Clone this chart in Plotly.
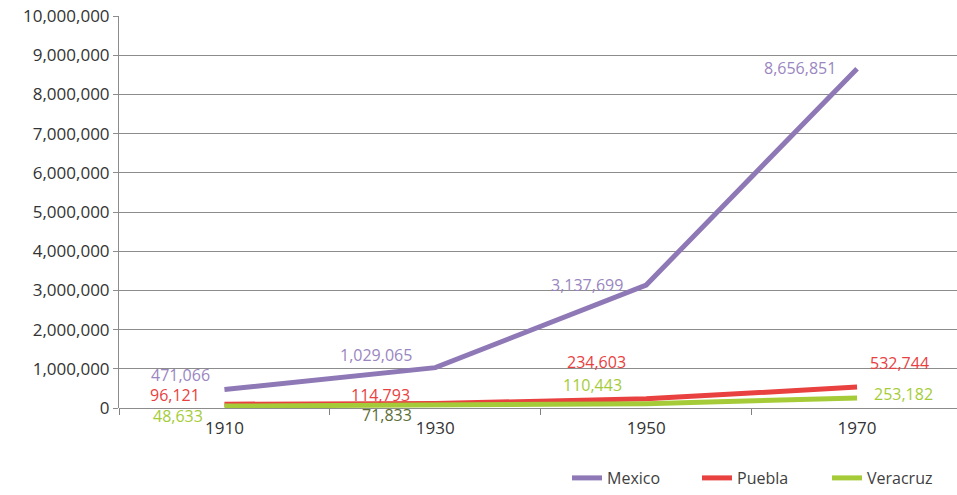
import plotly.graph_objects as go

years = ["1910", "1930", "1950", "1970"]
mexico = [471066, 1029065, 3137699, 8656851]
puebla = [96121, 114793, 234603, 532744]
veracruz = [48633, 71833, 110443, 253182]

series = [
    ("Mexico", mexico, "#8f78b6"),
    ("Puebla", puebla, "#e8413f"),
    ("Veracruz", veracruz, "#a5cc38"),
]

# label offsets in px (xshift, yshift) per series point
offsets = {
    "Mexico": [(-44, 15), (-59, 13), (-59, 0), (-57, 1)],
    "Puebla": [(-49, 9), (-55, 9), (-50, 37), (42, 24)],
    "Veracruz": [(-46, -10), (-48, -10), (-54, 19), (46, 4)],
}
label_colors = {
    "Mexico": ["#9a86c0"] * 4,
    "Puebla": ["#e8413f"] * 4,
    "Veracruz": ["#a5cc38", "#5b6d35", "#a5cc38", "#a5cc38"],
}

FONT = "Open Sans"
xs = list(range(len(years)))

fig = go.Figure()
for name, vals, color in series:
    fig.add_trace(go.Scatter(
        x=xs, y=vals, mode="lines", name=name,
        line=dict(color=color, width=5),
        cliponaxis=False,
    ))

annotations = []
for name, vals, color in series:
    for i, v in enumerate(vals):
        dx, dy = offsets[name][i]
        annotations.append(dict(
            x=xs[i], y=v, xref="x", yref="y", text=f"{v:,}",
            showarrow=False, xshift=dx, yshift=dy,
            font=dict(family=FONT, size=16, color=label_colors[name][i]),
        ))

fig.update_layout(
    width=957, height=495,
    margin=dict(l=119, r=0, t=16, b=87),
    paper_bgcolor="white", plot_bgcolor="white",
    font=dict(family=FONT, color="#333333"),
    showlegend=True,
    legend=dict(
        orientation="h", x=1.0, xanchor="right",
        yref="container", y=0.0, yanchor="bottom",
        font=dict(family=FONT, size=16, color="#404040"),
        entrywidth=85, entrywidthmode="pixels", traceorder="normal",
    ),
    annotations=annotations,
    xaxis=dict(
        range=[-0.5, 3.474],
        tickvals=xs, ticktext=years, ticks="",
        showgrid=False, zeroline=False, showline=False,
        ticklabelstandoff=8,
        tickfont=dict(family=FONT, size=17, color="#333333"),
        minor=dict(tickvals=[-0.5, 0.5, 1.5, 2.5], ticks="outside",
                   ticklen=6, tickcolor="#808080", tickwidth=1, showgrid=False),
    ),
    yaxis=dict(
        range=[0, 10000000], dtick=1000000, tickformat=",",
        showgrid=True, gridcolor="#8c8c8c", gridwidth=1,
        zeroline=True, zerolinecolor="#8c8c8c", zerolinewidth=1,
        showline=True, linecolor="#8c8c8c", linewidth=1,
        ticks="outside", ticklen=5, tickcolor="#8c8c8c",
        tickfont=dict(family=FONT, size=17, color="#333333"),
    ),
)

fig.write_html("out.html")
